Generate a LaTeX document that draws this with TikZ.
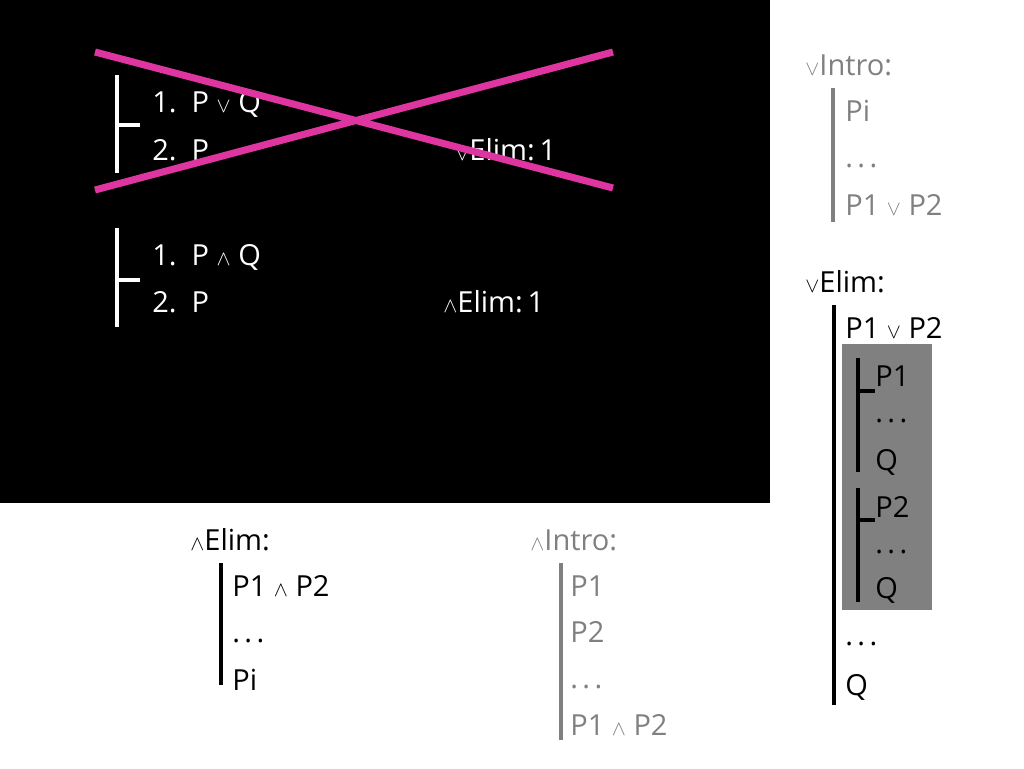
\documentclass[tikz,border=0pt]{standalone}
\usepackage{fontspec}
\setmainfont{Open Sans}
\definecolor{riscado}{RGB}{222,53,160}
\definecolor{cinza}{RGB}{128,128,128}
\newcommand{\disj}{\ensuremath{\scriptstyle\vee}}
\newcommand{\conj}{\ensuremath{\scriptstyle\wedge}}
\newcommand{\pontos}{.\hspace{2.5pt}.\hspace{2.5pt}.}
\tikzset{
  linha/.style={anchor=base west, inner sep=0pt, font=\fontsize{16.5}{19}\selectfont},
  barra/.style={line width=2.4pt},
}
\begin{document}
\begin{tikzpicture}[x=0.02cm, y=-0.02cm]
  \useasboundingbox (0,0) rectangle (1024,768);
  \fill[black] (0,0) rectangle (770,503);
  % provas no quadro preto
  \draw[barra, white] (117,75) -- (117,173) (117,125) -- (140,125);
  \node[linha, white] (a1) at (152,112) {1.\ \ P \disj\ Q};
  \node[linha, white] (a2) at (152,160) {2.\ \ P};
  \node[linha, white] (aj) at (455,160) {\disj Elim:\,1};
  \draw[barra, white] (117,228) -- (117,327) (117,280) -- (140,280);
  \node[linha, white] (b1) at (152,265) {1.\ \ P \conj\ Q};
  \node[linha, white] (b2) at (152,312) {2.\ \ P};
  \node[linha, white] (bj) at (443,312) {\conj Elim:\,1};
  % a primeira prova esta errada: risca-se
  \draw[riscado, line width=4pt] (95,52) -- (613,188) (95,190) -- (613,52);
  % regra: vIntro
  \node[linha, cinza] (oi) at (805,75) {\disj Intro:};
  \draw[barra, cinza] (833,88) -- (833,222);
  \node[linha, cinza] (oi1) at (845,121) {Pi};
  \node[linha, cinza] (oi2) at (845,167) {\pontos};
  \node[linha, cinza] (oi3) at (845,215) {P1 \disj\ P2};
  % regra: vElim
  \node[linha] (oe) at (805,292) {\disj Elim:};
  \draw[barra] (834,305) -- (834,705);
  \node[linha] (oe1) at (845,338) {P1 \disj\ P2};
  \fill[cinza] (842,344) rectangle (932,610);
  \draw[barra] (858,358) -- (858,472) (858,391) -- (875,391);
  \node[linha] (c1) at (875,386) {P1};
  \node[linha] (c2) at (875,422) {\pontos};
  \node[linha] (c3) at (875,470) {Q};
  \draw[barra] (858,488) -- (858,602) (858,520) -- (875,520);
  \node[linha] (d1) at (875,517) {P2};
  \node[linha] (d2) at (875,553) {\pontos};
  \node[linha] (d3) at (875,598) {Q};
  \node[linha] (oe2) at (845,645) {\pontos};
  \node[linha] (oe3) at (845,695) {Q};
  % regra: ^Elim
  \node[linha] (ee) at (190,550) {\conj Elim:};
  \draw[barra] (221,563) -- (221,685);
  \node[linha] (ee1) at (232,596) {P1 \conj\ P2};
  \node[linha] (ee2) at (232,642) {\pontos};
  \node[linha] (ee3) at (232,690) {Pi};
  % regra: ^Intro
  \node[linha, cinza] (ei) at (530,550) {\conj Intro:};
  \draw[barra, cinza] (561,563) -- (561,740);
  \node[linha, cinza] (ei1) at (570,596) {P1};
  \node[linha, cinza] (ei2) at (570,642) {P2};
  \node[linha, cinza] (ei3) at (570,688) {\pontos};
  \node[linha, cinza] (ei4) at (570,735) {P1 \conj\ P2};
\end{tikzpicture}
\end{document}
